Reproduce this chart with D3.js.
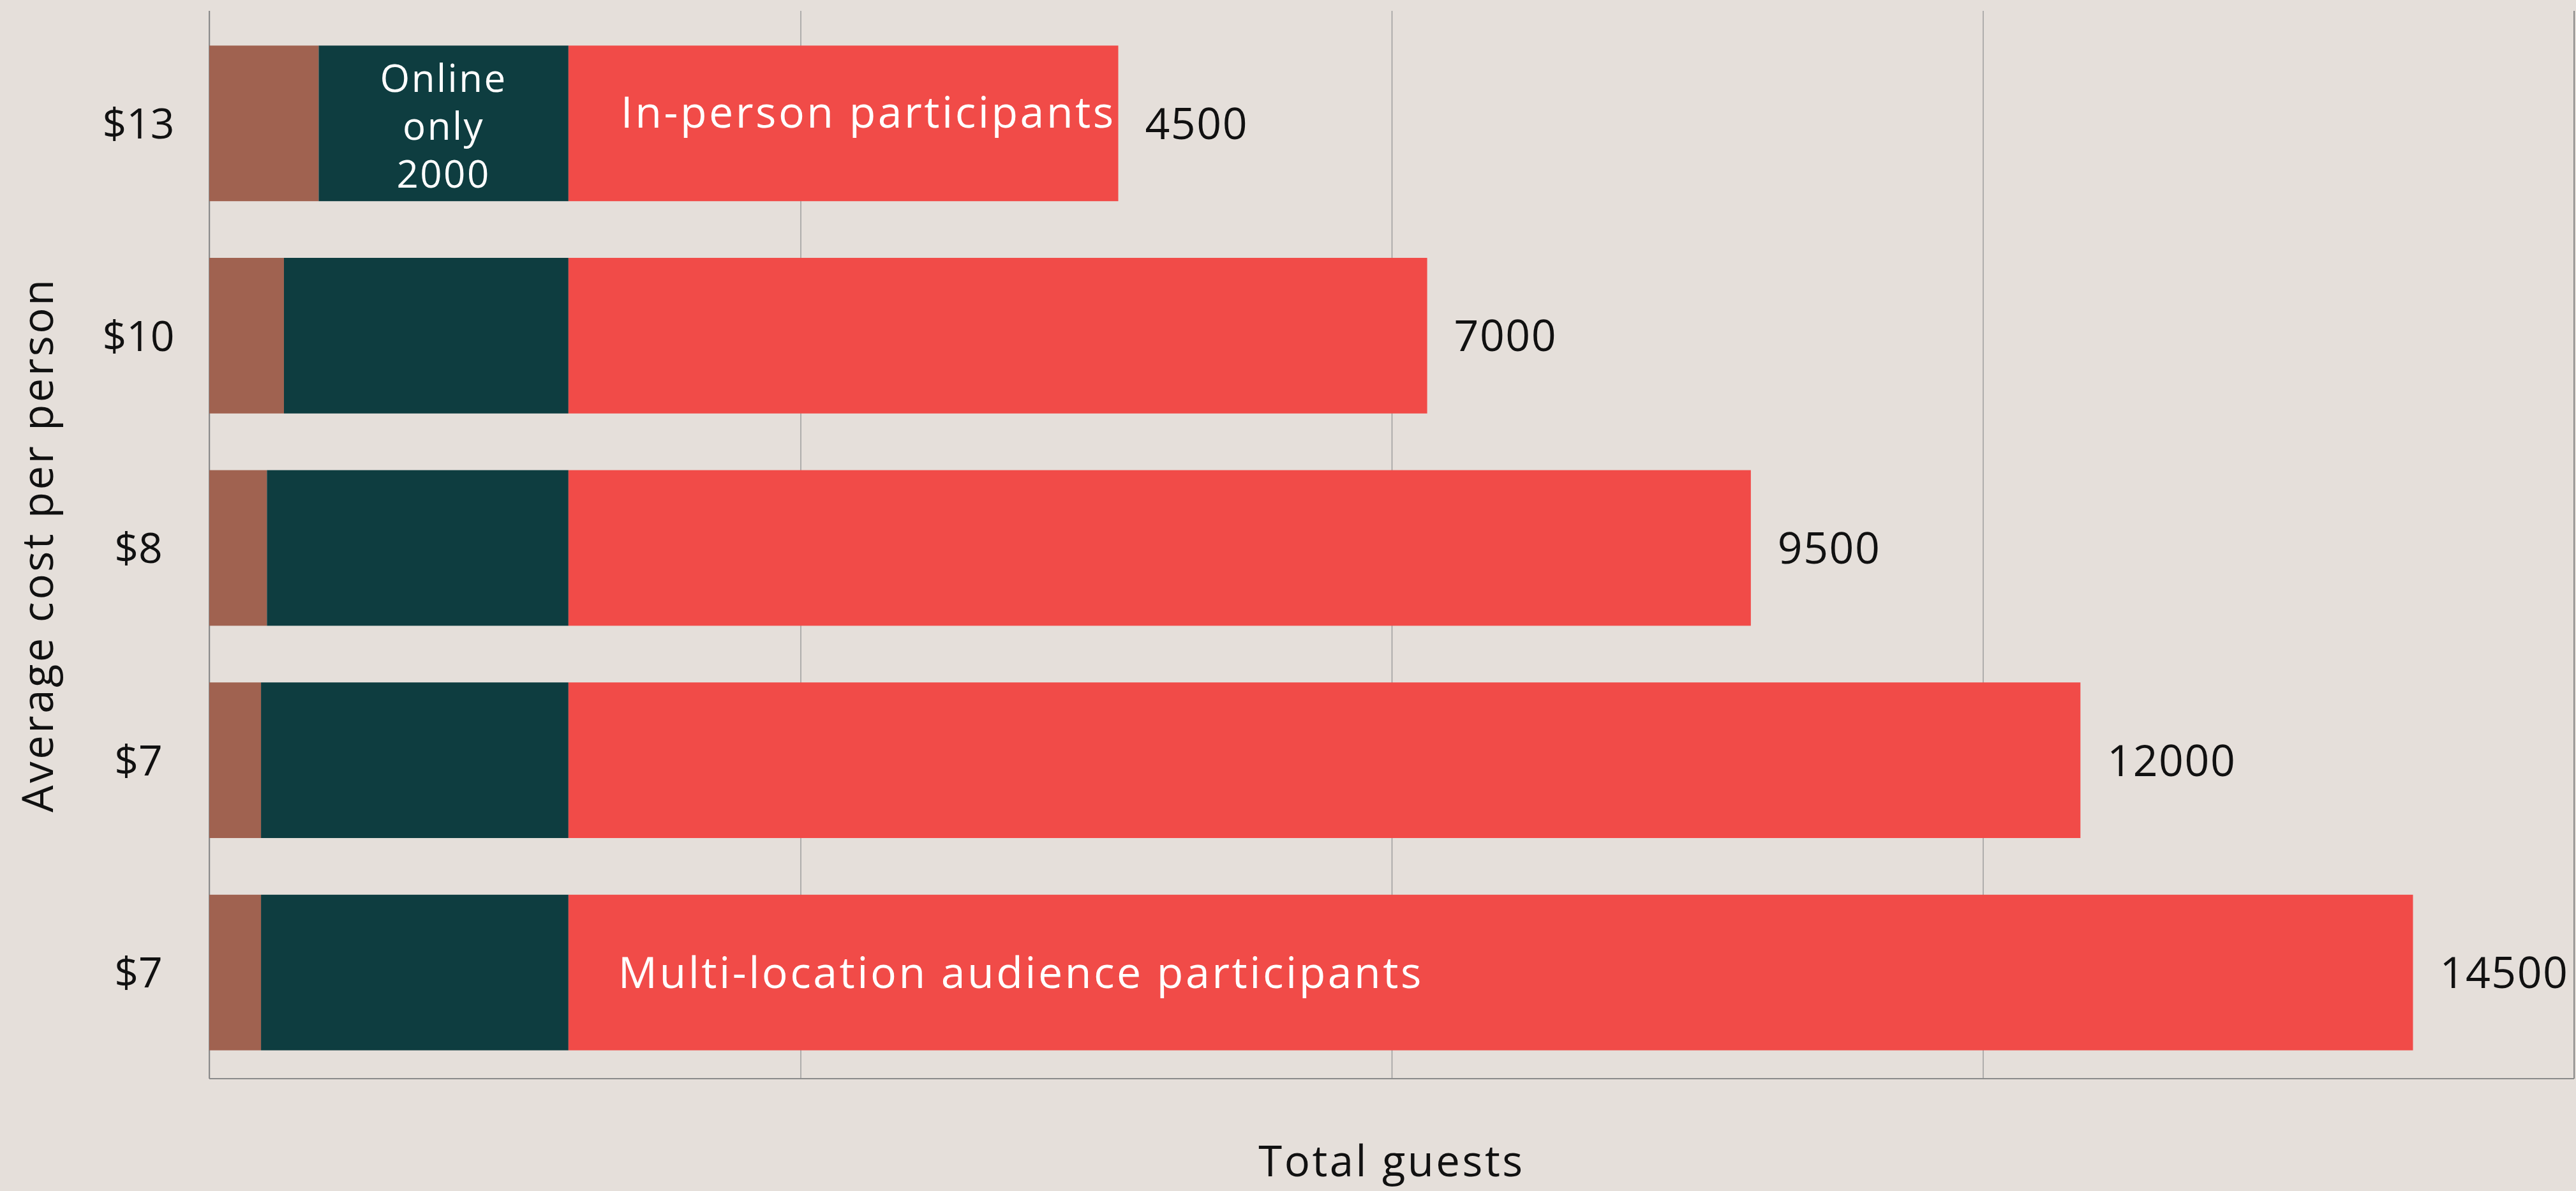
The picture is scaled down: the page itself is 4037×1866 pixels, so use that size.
<!DOCTYPE html>
<html>
<head>
<meta charset="utf-8">
<script src="https://cdn.jsdelivr.net/npm/d3@7"></script>
<style>
  html, body { margin: 0; padding: 0; background: #e5dfda; }
  svg { display: block; font-family: "Open Sans", "Noto Sans", sans-serif; }
  .grid line { stroke: #9d9d9d; stroke-width: 1.5; }
  .frame { stroke: #8a8a8a; stroke-width: 2; }
</style>
</head>
<body>
<svg class="chart" width="4037" height="1866"></svg>
<script>
// categories (rows, top to bottom)
const costLabels = ['$13', '$10', '$8', '$7', '$7'];

// series values (guests)
const otherGuests = [740, 505, 390, 350, 350];
const onlineGuests = [1690, 1925, 2040, 2080, 2080];
const inPersonGuests = [3720, 5810, 8000, 10230, 12480];

// labels shown at the end of each bar, and the online-only label
const totalLabels = [4500, 7000, 9500, 12000, 14500];
const onlineLabel = 2000;

// x gridline values
const xTicks = [0, 4000, 8000, 12000, 16000];

const colors = {
    other: '#a06250',
    online: '#0e3d40',
    inPerson: '#f14b48'
};

const svg = d3.select('.chart');

// plot area
const margin = { top: 17, right: 3, bottom: 176, left: 328 };
const width = +svg.attr('width') - margin.left - margin.right;
const height = +svg.attr('height') - margin.top - margin.bottom;

const rows = costLabels.map((c, i) => ({
    i: i,
    other: otherGuests[i],
    online: onlineGuests[i],
    inPerson: inPersonGuests[i]
}));

const stacked = d3.stack().keys(['other', 'online', 'inPerson'])(rows);

const x = d3.scaleLinear()
    .domain([0, d3.max(xTicks)])
    .range([0, width]);

const y = d3.scaleBand()
    .domain(d3.range(costLabels.length))
    .range([10, height])
    .paddingInner(0.267)
    .paddingOuter(0.1335);

const g = svg.append('g')
    .attr('transform', 'translate(' + margin.left + ',' + margin.top + ')');

// vertical gridlines
g.append('g')
    .attr('class', 'grid')
    .attr('transform', 'translate(0,' + height + ')')
    .call(d3.axisBottom(x).tickValues(xTicks).tickSize(-height).tickFormat(''))
    .call(a => a.select('.domain').remove());

// frame: left, bottom, right
g.append('line').attr('class', 'frame')
    .attr('x1', x(0)).attr('x2', x(0)).attr('y1', 0).attr('y2', height);
g.append('line').attr('class', 'frame')
    .attr('x1', x(0)).attr('x2', x(d3.max(xTicks))).attr('y1', height).attr('y2', height);
g.append('line').attr('class', 'frame')
    .attr('x1', x(d3.max(xTicks))).attr('x2', x(d3.max(xTicks))).attr('y1', 0).attr('y2', height);

// stacked bars
g.selectAll('.series')
    .data(stacked)
    .enter().append('g')
    .attr('class', 'series')
    .attr('fill', d => colors[d.key])
    .selectAll('rect')
    .data(d => d)
    .enter().append('rect')
    .attr('x', d => x(d[0]))
    .attr('y', d => y(d.data.i))
    .attr('width', d => x(d[1]) - x(d[0]))
    .attr('height', y.bandwidth());

// y axis labels
const yAxis = g.append('g')
    .call(d3.axisLeft(y).tickSize(0).tickFormat(i => costLabels[i]));
yAxis.select('.domain').remove();
yAxis.selectAll('text')
    .attr('x', -111)
    .attr('dy', '0.36em')
    .style('text-anchor', 'middle')
    .style('font-size', '66px')
    .style('font-family', '"Open Sans", sans-serif')
    .attr('fill', '#111');

// total labels
const ends = stacked[stacked.length - 1];
g.selectAll('.total')
    .data(ends)
    .enter().append('text')
    .attr('class', 'total')
    .attr('x', d => x(d[1]) + 42)
    .attr('y', d => y(d.data.i) + y.bandwidth() / 2)
    .attr('dy', '0.36em')
    .style('font-size', '68px')
    .style('letter-spacing', '1.5px')
    .attr('fill', '#111')
    .text((d, i) => totalLabels[i]);

// annotations inside the bars
const onlineTop = stacked[1][0];
const onlineX = (x(onlineTop[0]) + x(onlineTop[1])) / 2;
const onlineText = g.append('text')
    .attr('x', onlineX)
    .attr('y', y(0) + y.bandwidth() / 2)
    .attr('fill', '#fff')
    .style('font-size', '60px')
    .style('letter-spacing', '2.5px')
    .style('text-anchor', 'middle');
['Online', 'only', String(onlineLabel)].forEach((t, k) => {
    onlineText.append('tspan')
        .attr('x', onlineX)
        .attr('dy', k === 0 ? '-0.82em' : '1.25em')
        .text(t);
});

const redTop = stacked[2][0];
g.append('text')
    .attr('x', x(redTop[0]) + 82)
    .attr('y', y(0) + y.bandwidth() / 2 - 18)
    .attr('dy', '0.36em')
    .attr('fill', '#fff')
    .style('font-size', '68px')
    .style('letter-spacing', '3.5px')
    .text('In-person participants');

const redBottom = stacked[2][costLabels.length - 1];
g.append('text')
    .attr('x', x(redBottom[0]) + 78)
    .attr('y', y(costLabels.length - 1) + y.bandwidth() / 2)
    .attr('dy', '0.36em')
    .attr('fill', '#fff')
    .style('font-size', '68px')
    .style('letter-spacing', '3.5px')
    .text('Multi-location audience participants');

// axis titles
svg.append('text')
    .attr('x', margin.left + width / 2)
    .attr('y', 1843)
    .style('text-anchor', 'middle')
    .style('font-size', '67px')
    .style('letter-spacing', '3.5px')
    .attr('fill', '#111')
    .text('Total guests');

svg.append('text')
    .attr('transform', 'translate(83,' + (margin.top + height / 2) + ') rotate(-90)')
    .style('text-anchor', 'middle')
    .style('font-size', '67px')
    .style('letter-spacing', '3.5px')
    .attr('fill', '#111')
    .text('Average cost per person');
</script>
</body>
</html>
